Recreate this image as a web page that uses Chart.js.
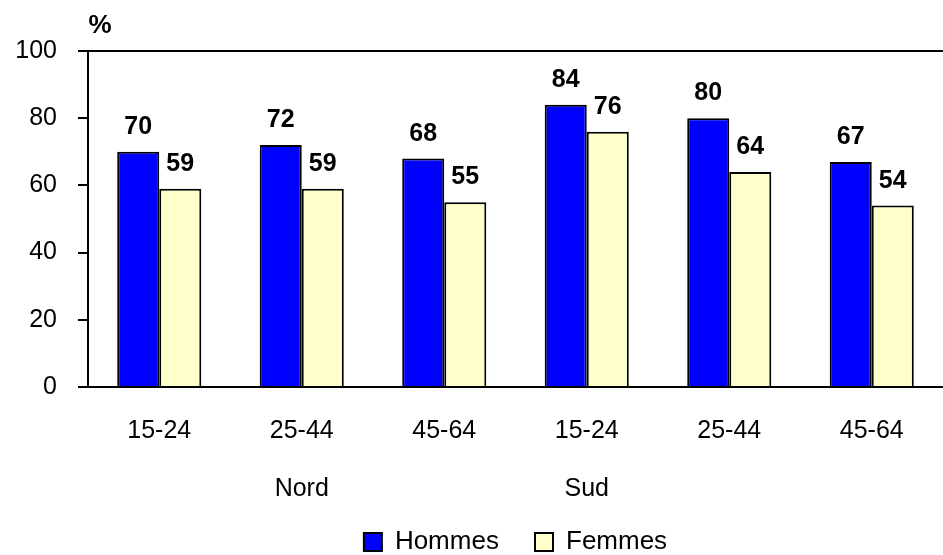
<!DOCTYPE html>
<html>
<head>
<meta charset="utf-8">
<script src="https://cdn.jsdelivr.net/npm/chart.js@4/dist/chart.umd.min.js"></script>
<style>
  body { margin: 0; background: #fff; }
  #wrap { width: 943px; height: 555px; position: relative; }
</style>
</head>
<body>
<div id="wrap"><canvas id="chart"></canvas></div>
<script>
// Data
const ageGroups = ['15-24', '25-44', '45-64', '15-24', '25-44', '45-64'];
const regionLabels = ['', 'Nord', '', 'Sud', '', ''];
const hommes = [70, 72, 68, 84, 80, 67];
const femmes = [59, 59, 55, 76, 64, 54];
const yTicks = [0, 20, 40, 60, 80, 100];

const FONT = "'Liberation Sans', Arial, sans-serif";

// Bold value labels above each bar, plus the "%" unit at top-left
const barLabels = {
    id: 'barLabels',
    afterDatasetsDraw(chart) {
        const ctx = chart.ctx;
        ctx.save();
        ctx.fillStyle = '#000';
        ctx.font = 'bold 25px ' + FONT;
        ctx.textAlign = 'center';
        ctx.textBaseline = 'alphabetic';
        chart.data.datasets.forEach((ds, i) => {
            chart.getDatasetMeta(i).data.forEach((bar, j) => {
                ctx.fillText(ds.data[j], bar.x, bar.y - 18);
            });
        });
        ctx.font = 'bold 26px ' + FONT;
        ctx.fillText('%', chart.chartArea.left + 12, 33);
        ctx.restore();
    }
};

new Chart(document.getElementById('chart'), {
    type: 'bar',
    data: {
        labels: ageGroups,
        datasets: [
            { label: 'Hommes', data: hommes, backgroundColor: '#0000FF', borderColor: '#000', borderWidth: 2 },
            { label: 'Femmes', data: femmes, backgroundColor: '#FFFFCC', borderColor: '#000', borderWidth: 2 }
        ]
    },
    options: {
        responsive: true,
        maintainAspectRatio: false,
        animation: false,
        // negative bottom padding pushes the legend closer to the edge
        layout: { padding: { top: 51, left: 0, right: 0, bottom: -10 } },
        datasets: { bar: { categoryPercentage: 0.59, barPercentage: 1 } },
        plugins: {
            tooltip: { enabled: false },
            legend: {
                position: 'bottom',
                fullSize: false,
                labels: {
                    color: '#000',
                    font: { size: 26, family: FONT },
                    boxWidth: 18,
                    boxHeight: 18,
                    padding: 0,
                    // extra gap after the first entry, as in the picture
                    generateLabels: chart => Chart.defaults.plugins.legend.labels.generateLabels(chart)
                        .map((item, i) => ({ ...item, text: i === 0 ? item.text + '     ' : item.text }))
                }
            }
        },
        scales: {
            x: {
                afterFit: axis => { axis.height = 60; },
                grid: { display: false },
                border: { display: true, color: '#000', width: 2 },
                ticks: {
                    color: '#000',
                    font: { size: 25, family: FONT },
                    padding: 21,
                    autoSkip: false,
                    maxRotation: 0
                }
            },
            x2: {
                type: 'category',
                labels: regionLabels,
                position: 'bottom',
                offset: true,
                afterFit: axis => { axis.height = 82; },
                grid: { display: false },
                border: { display: false },
                ticks: {
                    color: '#000',
                    font: { size: 25, family: FONT },
                    padding: 19,
                    autoSkip: false,
                    maxRotation: 0
                }
            },
            y: {
                min: 0,
                max: 100,
                afterBuildTicks: axis => { axis.ticks = yTicks.map(v => ({ value: v })); },
                afterFit: axis => { axis.width = 88; },
                grid: {
                    color: c => c.tick && c.tick.value === 100 ? '#000' : 'rgba(0,0,0,0)',
                    tickColor: '#000',
                    lineWidth: 2,
                    tickLength: 10
                },
                border: { display: true, color: '#000', width: 2 },
                ticks: {
                    color: '#000',
                    font: { size: 25, family: FONT },
                    padding: 21
                }
            }
        }
    },
    plugins: [barLabels]
});
</script>
</body>
</html>
